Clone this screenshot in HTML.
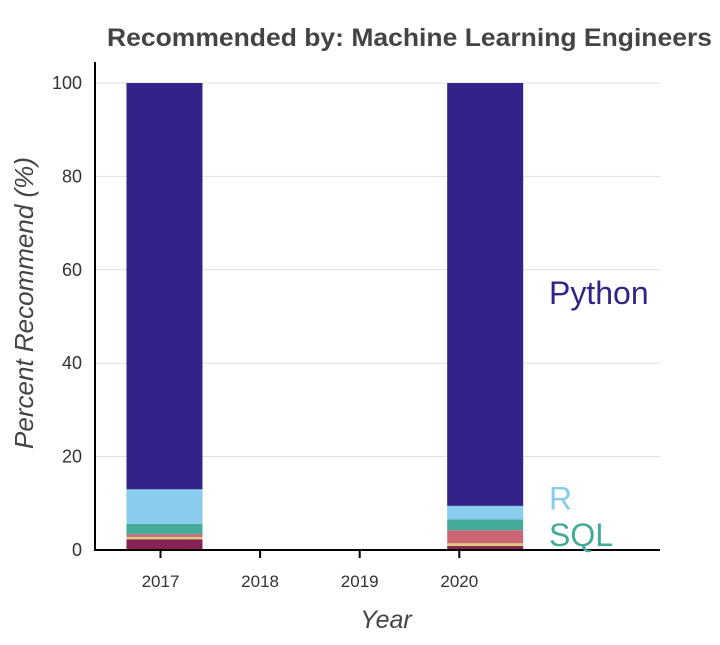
<!DOCTYPE html>
<html><head><meta charset="utf-8"><style>
body{margin:0;background:#fff;font-family:"Liberation Sans",Arial,sans-serif}
</style></head><body>
<svg id="chart" width="720" height="640" xmlns="http://www.w3.org/2000/svg" font-family="Liberation Sans, Arial, sans-serif"></svg>
<script>
const years=[2017,2018,2019,2020];
const barYears=[2017.04,2020.26];
const seriesNames=["Other","Julia","Javascript","SQL","R","Python"];
const seriesColors=["#882255","#DDCC77","#CC6677","#44AA99","#88CCEE","#332288"];
const s2017=[2.3,0.5,0.6,2.2,7.4,87.0];
const s2020=[0.85,0.6,2.8,2.3,2.9,90.55];
const yTicks=[0,20,40,60,80,100];
const labelNames=["Python","R","SQL"];
const labelValues=[55,11,3.2];
const labelColors=["#332288","#88CCEE","#44AA99"];
const svg=document.getElementById('chart');
const NS="http://www.w3.org/2000/svg";
function mk(t,a,txt){const e=document.createElementNS(NS,t);for(const k in a)e.setAttribute(k,a[k]);if(txt!=null)e.textContent=txt;svg.appendChild(e);return e;}
const x=v=>160.5+(v-2017)*99.6;
const y=v=>550-v*4.67;
let e;
yTicks.forEach(t=>{
 if(t>0){e=mk('line',{x1:95,x2:660,y1:y(t),y2:y(t),stroke:'#e0e0e0','stroke-width':1});
 
 }
 e=mk('text',{x:82,y:y(t)+6,'text-anchor':'end','font-size':18,fill:'#333'},t);
 
 
});
[s2017,s2020].forEach((vals,i)=>{
 let base=0;
 vals.forEach((v,j)=>{
  e=mk('rect',{x:x(barYears[i])-38,width:76,y:y(base+v),height:y(base)-y(base+v),fill:seriesColors[j]});
  
  
  base+=v;
 });
});
e=mk('line',{x1:95,x2:95,y1:62,y2:550,stroke:'#000','stroke-width':2});

e=mk('line',{x1:94,x2:660,y1:550,y2:550,stroke:'#000','stroke-width':2});

years.forEach(yr=>{
 e=mk('line',{x1:x(yr),x2:x(yr),y1:550,y2:558,stroke:'#000','stroke-width':2});
 
 e=mk('text',{x:x(yr),y:587,'text-anchor':'middle','font-size':17,fill:'#333'},yr);
 
});
labelNames.forEach((n,i)=>{
 e=mk('text',{x:549,y:y(labelValues[i])+11,'font-size':32,fill:labelColors[i]},n);
 
 
});
e=mk('text',{x:107,y:46,'font-size':25,'font-weight':'bold',fill:'#444',textLength:605,lengthAdjust:'spacingAndGlyphs'},'Recommended by: Machine Learning Engineers');

e=mk('text',{x:386,y:628,'text-anchor':'middle','font-size':25,'font-style':'italic',fill:'#444'},'Year');

e=mk('text',{x:0,y:0,'text-anchor':'middle','font-size':26,'font-style':'italic',fill:'#444',transform:'translate(33,303) rotate(-90)'},'Percent Recommend (%)');

</script>
</body></html>
